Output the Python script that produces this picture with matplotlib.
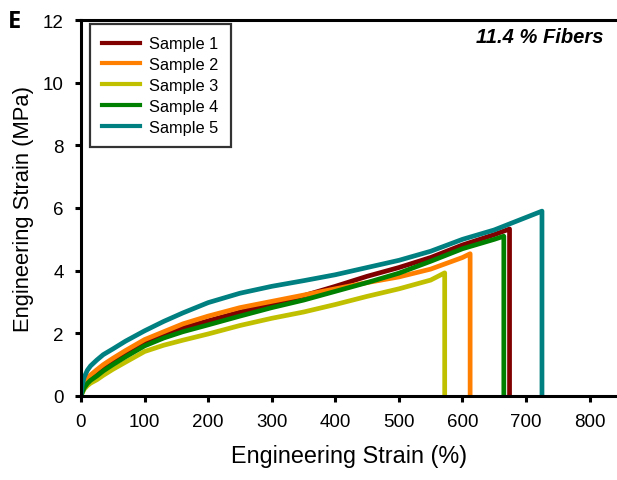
import matplotlib
matplotlib.use("Agg")
import matplotlib.pyplot as plt

plt.rcParams['font.family'] = ['Liberation Sans', 'DejaVu Sans']

labels = ["Sample 1", "Sample 2", "Sample 3", "Sample 4", "Sample 5"]
colors = ["#800000", "#ff8000", "#c0c000", "#008000", "#008080"]

s1_x = [0, 2, 5, 10, 15, 25, 35, 50, 70, 100, 130, 160, 200, 250, 300, 350, 400, 450, 500, 550, 600, 650, 674, 674]
s1_y = [0, 0.15, 0.3, 0.47, 0.58, 0.72, 0.88, 1.1, 1.35, 1.7, 1.95, 2.17, 2.4, 2.68, 2.92, 3.2, 3.5, 3.82, 4.1, 4.42, 4.82, 5.15, 5.33, 0]

s2_x = [0, 2, 5, 10, 15, 25, 35, 50, 70, 100, 130, 160, 200, 250, 300, 350, 400, 450, 500, 550, 600, 612, 612]
s2_y = [0, 0.2, 0.38, 0.56, 0.67, 0.84, 1.0, 1.2, 1.45, 1.8, 2.05, 2.3, 2.55, 2.82, 3.02, 3.22, 3.42, 3.62, 3.8, 4.05, 4.42, 4.54, 0]

s3_x = [0, 2, 5, 10, 15, 25, 35, 50, 70, 100, 130, 160, 200, 250, 300, 350, 400, 450, 500, 550, 572, 572]
s3_y = [0, 0.1, 0.22, 0.33, 0.41, 0.52, 0.66, 0.85, 1.08, 1.42, 1.62, 1.78, 1.98, 2.25, 2.48, 2.68, 2.92, 3.18, 3.42, 3.7, 3.93, 0]

s4_x = [0, 2, 5, 10, 15, 25, 35, 50, 70, 100, 130, 160, 200, 250, 300, 350, 400, 450, 500, 550, 600, 650, 665, 665]
s4_y = [0, 0.12, 0.26, 0.4, 0.5, 0.64, 0.8, 1.0, 1.25, 1.6, 1.85, 2.05, 2.27, 2.55, 2.82, 3.06, 3.34, 3.62, 3.92, 4.3, 4.7, 5.0, 5.1, 0]

s5_x = [0, 2, 5, 10, 15, 25, 35, 50, 70, 100, 130, 160, 200, 250, 300, 350, 400, 450, 500, 550, 600, 650, 700, 725, 725]
s5_y = [0, 0.35, 0.6, 0.82, 0.96, 1.15, 1.32, 1.5, 1.75, 2.08, 2.38, 2.65, 2.98, 3.28, 3.5, 3.68, 3.87, 4.1, 4.33, 4.62, 5.0, 5.3, 5.7, 5.9, 0]

xs = [s1_x, s2_x, s3_x, s4_x, s5_x]
ys = [s1_y, s2_y, s3_y, s4_y, s5_y]

x_ticks = [0, 100, 200, 300, 400, 500, 600, 700, 800]
y_ticks = [0, 2, 4, 6, 8, 10, 12]

fig = plt.figure(figsize=(6.17, 4.81), dpi=100)
ax = fig.add_axes([81/617, 1 - 397/481, 1 - 81/617, (397 - 21)/481])

for x, y, c, l in zip(xs, ys, colors, labels):
    ax.plot(x, y, color=c, lw=3.4, label=l, solid_joinstyle='round')

ax.set_xlim(0, 843)
ax.set_ylim(0, 12)
ax.set_xticks(x_ticks)
ax.set_yticks(y_ticks)
ax.tick_params(direction='out', length=4, width=2.2, labelsize=13.5, pad=8.5)
for s in ['left', 'bottom', 'top']:
    ax.spines[s].set_linewidth(2.2)
ax.spines['right'].set_visible(False)

ax.set_xlabel("Engineering Strain (%)", fontsize=16.8, labelpad=10)
ax.set_ylabel("Engineering Strain (MPa)", fontsize=15.8, labelpad=6)

leg = ax.legend(loc='upper left', bbox_to_anchor=(9/536, 1 - 4/376), borderaxespad=0,
                fontsize=11.8, frameon=True, fancybox=False, edgecolor='black',
                handlelength=2.3, borderpad=0.75, labelspacing=0.36, handletextpad=0.55)
leg.get_frame().set_linewidth(1.6)
for line in leg.get_lines():
    line.set_linewidth(3)

ax.text(0.975, 0.955, "11.4 % Fibers", transform=ax.transAxes, ha='right', va='center',
        fontsize=14.5, fontweight='bold', fontstyle='italic')

fig.text(8/617, 1 - 21.5/481, "E", fontsize=17, fontweight='bold', va='center', ha='left',
         family=['Open Sans', 'DejaVu Sans'])

fig.savefig("out.png", dpi=100)
